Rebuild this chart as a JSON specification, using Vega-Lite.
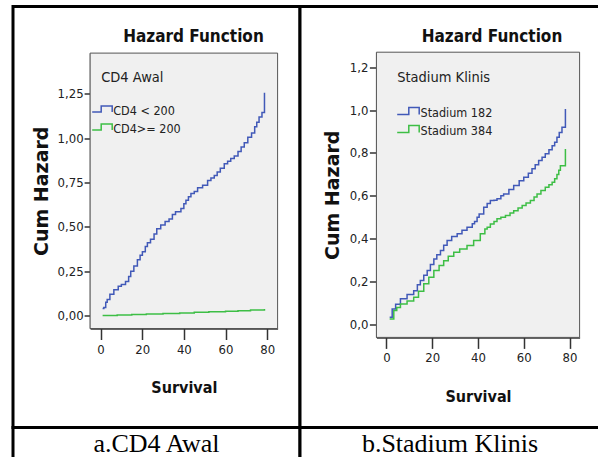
{
  "$schema": "https://vega.github.io/schema/vega-lite/v6.json",
  "padding": {"left": 11, "top": 4.5, "right": 0, "bottom": 0},
  "background": "white",
  "datasets": {
    "hz": [
      {"panel":"A","group":"CD4 < 200","t":1,"h":0.04},{"panel":"A","group":"CD4 < 200","t":1.6,"h":0.045},{"panel":"A","group":"CD4 < 200","t":2.5,"h":0.075},{"panel":"A","group":"CD4 < 200","t":3.2,"h":0.09},{"panel":"A","group":"CD4 < 200","t":4.5,"h":0.12},{"panel":"A","group":"CD4 < 200","t":6.4,"h":0.146},{"panel":"A","group":"CD4 < 200","t":8.5,"h":0.165},{"panel":"A","group":"CD4 < 200","t":10,"h":0.175},{"panel":"A","group":"CD4 < 200","t":12,"h":0.192},{"panel":"A","group":"CD4 < 200","t":13.5,"h":0.22},{"panel":"A","group":"CD4 < 200","t":14.5,"h":0.25},{"panel":"A","group":"CD4 < 200","t":16,"h":0.28},{"panel":"A","group":"CD4 < 200","t":17.7,"h":0.314},{"panel":"A","group":"CD4 < 200","t":19,"h":0.34},{"panel":"A","group":"CD4 < 200","t":20.1,"h":0.36},{"panel":"A","group":"CD4 < 200","t":21.5,"h":0.39},{"panel":"A","group":"CD4 < 200","t":22.5,"h":0.41},{"panel":"A","group":"CD4 < 200","t":24,"h":0.43},{"panel":"A","group":"CD4 < 200","t":25.7,"h":0.46},{"panel":"A","group":"CD4 < 200","t":27,"h":0.49},{"panel":"A","group":"CD4 < 200","t":28.9,"h":0.51},{"panel":"A","group":"CD4 < 200","t":31,"h":0.53},{"panel":"A","group":"CD4 < 200","t":32.9,"h":0.545},{"panel":"A","group":"CD4 < 200","t":34.5,"h":0.57},{"panel":"A","group":"CD4 < 200","t":36,"h":0.585},{"panel":"A","group":"CD4 < 200","t":38.6,"h":0.604},{"panel":"A","group":"CD4 < 200","t":40,"h":0.63},{"panel":"A","group":"CD4 < 200","t":41,"h":0.65},{"panel":"A","group":"CD4 < 200","t":42.2,"h":0.67},{"panel":"A","group":"CD4 < 200","t":43.4,"h":0.688},{"panel":"A","group":"CD4 < 200","t":45,"h":0.7},{"panel":"A","group":"CD4 < 200","t":46.6,"h":0.72},{"panel":"A","group":"CD4 < 200","t":49,"h":0.735},{"panel":"A","group":"CD4 < 200","t":51.4,"h":0.762},{"panel":"A","group":"CD4 < 200","t":53,"h":0.775},{"panel":"A","group":"CD4 < 200","t":54.6,"h":0.79},{"panel":"A","group":"CD4 < 200","t":56,"h":0.81},{"panel":"A","group":"CD4 < 200","t":57.5,"h":0.83},{"panel":"A","group":"CD4 < 200","t":59.4,"h":0.856},{"panel":"A","group":"CD4 < 200","t":61,"h":0.87},{"panel":"A","group":"CD4 < 200","t":62.5,"h":0.885},{"panel":"A","group":"CD4 < 200","t":64.2,"h":0.9},{"panel":"A","group":"CD4 < 200","t":66,"h":0.925},{"panel":"A","group":"CD4 < 200","t":67.5,"h":0.95},{"panel":"A","group":"CD4 < 200","t":69,"h":0.975},{"panel":"A","group":"CD4 < 200","t":70.7,"h":1.005},{"panel":"A","group":"CD4 < 200","t":72.5,"h":1.03},{"panel":"A","group":"CD4 < 200","t":74,"h":1.065},{"panel":"A","group":"CD4 < 200","t":75,"h":1.09},{"panel":"A","group":"CD4 < 200","t":76.1,"h":1.12},{"panel":"A","group":"CD4 < 200","t":77.5,"h":1.145},{"panel":"A","group":"CD4 < 200","t":78.7,"h":1.257},
      {"panel":"A","group":"CD4>= 200","t":1,"h":0.0},{"panel":"A","group":"CD4>= 200","t":8,"h":0.003},{"panel":"A","group":"CD4>= 200","t":15,"h":0.006},{"panel":"A","group":"CD4>= 200","t":22,"h":0.009},{"panel":"A","group":"CD4>= 200","t":30,"h":0.012},{"panel":"A","group":"CD4>= 200","t":38,"h":0.015},{"panel":"A","group":"CD4>= 200","t":45,"h":0.018},{"panel":"A","group":"CD4>= 200","t":52,"h":0.021},{"panel":"A","group":"CD4>= 200","t":60,"h":0.024},{"panel":"A","group":"CD4>= 200","t":66,"h":0.027},{"panel":"A","group":"CD4>= 200","t":72,"h":0.031},{"panel":"A","group":"CD4>= 200","t":78.7,"h":0.037},
      {"panel":"B","group":"Stadium 182","t":1.4,"h":0.034},{"panel":"B","group":"Stadium 182","t":2.5,"h":0.073},{"panel":"B","group":"Stadium 182","t":4,"h":0.095},{"panel":"B","group":"Stadium 182","t":6.1,"h":0.12},{"panel":"B","group":"Stadium 182","t":9,"h":0.14},{"panel":"B","group":"Stadium 182","t":11.9,"h":0.158},{"panel":"B","group":"Stadium 182","t":13.5,"h":0.185},{"panel":"B","group":"Stadium 182","t":14.8,"h":0.205},{"panel":"B","group":"Stadium 182","t":16.3,"h":0.23},{"panel":"B","group":"Stadium 182","t":17.8,"h":0.252},{"panel":"B","group":"Stadium 182","t":19.2,"h":0.28},{"panel":"B","group":"Stadium 182","t":20.7,"h":0.306},{"panel":"B","group":"Stadium 182","t":22,"h":0.325},{"panel":"B","group":"Stadium 182","t":23.6,"h":0.345},{"panel":"B","group":"Stadium 182","t":25,"h":0.37},{"panel":"B","group":"Stadium 182","t":26.5,"h":0.392},{"panel":"B","group":"Stadium 182","t":28.5,"h":0.41},{"panel":"B","group":"Stadium 182","t":30.9,"h":0.423},{"panel":"B","group":"Stadium 182","t":33,"h":0.44},{"panel":"B","group":"Stadium 182","t":35.2,"h":0.454},{"panel":"B","group":"Stadium 182","t":37.5,"h":0.47},{"panel":"B","group":"Stadium 182","t":38.5,"h":0.48},{"panel":"B","group":"Stadium 182","t":39.6,"h":0.5},{"panel":"B","group":"Stadium 182","t":40.5,"h":0.516},{"panel":"B","group":"Stadium 182","t":42.5,"h":0.547},{"panel":"B","group":"Stadium 182","t":44,"h":0.565},{"panel":"B","group":"Stadium 182","t":45.4,"h":0.578},{"panel":"B","group":"Stadium 182","t":47,"h":0.58},{"panel":"B","group":"Stadium 182","t":48.3,"h":0.586},{"panel":"B","group":"Stadium 182","t":50,"h":0.6},{"panel":"B","group":"Stadium 182","t":51.2,"h":0.609},{"panel":"B","group":"Stadium 182","t":53.5,"h":0.63},{"panel":"B","group":"Stadium 182","t":55.6,"h":0.648},{"panel":"B","group":"Stadium 182","t":58,"h":0.67},{"panel":"B","group":"Stadium 182","t":60,"h":0.687},{"panel":"B","group":"Stadium 182","t":62,"h":0.705},{"panel":"B","group":"Stadium 182","t":63.6,"h":0.726},{"panel":"B","group":"Stadium 182","t":65,"h":0.745},{"panel":"B","group":"Stadium 182","t":66.5,"h":0.765},{"panel":"B","group":"Stadium 182","t":68,"h":0.78},{"panel":"B","group":"Stadium 182","t":69.4,"h":0.796},{"panel":"B","group":"Stadium 182","t":71,"h":0.815},{"panel":"B","group":"Stadium 182","t":72.4,"h":0.834},{"panel":"B","group":"Stadium 182","t":73.5,"h":0.85},{"panel":"B","group":"Stadium 182","t":74.5,"h":0.873},{"panel":"B","group":"Stadium 182","t":75.5,"h":0.895},{"panel":"B","group":"Stadium 182","t":76.7,"h":0.92},{"panel":"B","group":"Stadium 182","t":78.2,"h":1.005},
      {"panel":"B","group":"Stadium 384","t":1.4,"h":0.026},{"panel":"B","group":"Stadium 384","t":3.2,"h":0.065},{"panel":"B","group":"Stadium 384","t":4.5,"h":0.08},{"panel":"B","group":"Stadium 384","t":6.1,"h":0.096},{"panel":"B","group":"Stadium 384","t":9,"h":0.11},{"panel":"B","group":"Stadium 384","t":11.9,"h":0.127},{"panel":"B","group":"Stadium 384","t":14,"h":0.155},{"panel":"B","group":"Stadium 384","t":16.3,"h":0.19},{"panel":"B","group":"Stadium 384","t":18.5,"h":0.22},{"panel":"B","group":"Stadium 384","t":20.7,"h":0.252},{"panel":"B","group":"Stadium 384","t":23,"h":0.275},{"panel":"B","group":"Stadium 384","t":25,"h":0.298},{"panel":"B","group":"Stadium 384","t":27,"h":0.318},{"panel":"B","group":"Stadium 384","t":29.4,"h":0.337},{"panel":"B","group":"Stadium 384","t":32,"h":0.352},{"panel":"B","group":"Stadium 384","t":35.2,"h":0.368},{"panel":"B","group":"Stadium 384","t":38.1,"h":0.392},{"panel":"B","group":"Stadium 384","t":41,"h":0.423},{"panel":"B","group":"Stadium 384","t":43,"h":0.445},{"panel":"B","group":"Stadium 384","t":44,"h":0.454},{"panel":"B","group":"Stadium 384","t":45.4,"h":0.469},{"panel":"B","group":"Stadium 384","t":47,"h":0.48},{"panel":"B","group":"Stadium 384","t":48.3,"h":0.493},{"panel":"B","group":"Stadium 384","t":50,"h":0.5},{"panel":"B","group":"Stadium 384","t":52,"h":0.508},{"panel":"B","group":"Stadium 384","t":54,"h":0.52},{"panel":"B","group":"Stadium 384","t":55.6,"h":0.531},{"panel":"B","group":"Stadium 384","t":57.5,"h":0.543},{"panel":"B","group":"Stadium 384","t":59.3,"h":0.555},{"panel":"B","group":"Stadium 384","t":61,"h":0.567},{"panel":"B","group":"Stadium 384","t":62.9,"h":0.578},{"panel":"B","group":"Stadium 384","t":64.5,"h":0.595},{"panel":"B","group":"Stadium 384","t":65.8,"h":0.609},{"panel":"B","group":"Stadium 384","t":67.5,"h":0.625},{"panel":"B","group":"Stadium 384","t":69.4,"h":0.64},{"panel":"B","group":"Stadium 384","t":71,"h":0.652},{"panel":"B","group":"Stadium 384","t":72.4,"h":0.663},{"panel":"B","group":"Stadium 384","t":73.5,"h":0.68},{"panel":"B","group":"Stadium 384","t":74.5,"h":0.7},{"panel":"B","group":"Stadium 384","t":75.3,"h":0.72},{"panel":"B","group":"Stadium 384","t":76,"h":0.741},{"panel":"B","group":"Stadium 384","t":78.2,"h":0.819}
    ],
    "caps": [
      {"panel": "A", "caption": "a.CD4 Awal"},
      {"panel": "B", "caption": "b.Stadium Klinis"}
    ]
  },
  "columns": 2,
  "spacing": 0,
  "bounds": "flush",
  "align": "each",
  "resolve": {"scale": {"x": "independent", "y": "independent", "color": "independent"}, "legend": {"color": "independent"}},
  "concat": [
    {
      "width": 287,
      "height": 421,
      "title": {"text": "Hazard Function", "offset": -39, "dx": 37, "anchor": "middle", "frame": "group", "font": "'DejaVu Sans Condensed', sans-serif", "fontSize": 17, "fontWeight": "bold", "color": "#111"},
      "layer": [
        {
          "data": {"values": [{}]},
          "mark": {"type": "rect", "fill": "#f0f0f0", "stroke": "#555", "strokeWidth": 1},
          "encoding": {
            "x": {"datum": -5, "type": "quantitative"},
            "x2": {"datum": 85},
            "y": {"datum": -0.073, "type": "quantitative"},
            "y2": {"datum": 1.48}
          }
        },
        {
          "data": {"name": "hz"},
          "transform": [{"filter": "datum.panel === 'A'"}],
          "mark": {"type": "line", "interpolate": "step-after", "strokeWidth": 1.5},
          "encoding": {
            "x": {"field": "t", "type": "quantitative",
              "scale": {"domain": [-5, 85], "range": [77.1, 264.6], "nice": false, "zero": false},
              "axis": {"title": "Survival", "values": [0, 20, 40, 60, 80], "offset": -99, "tickSize": 11, "labelPadding": 4, "titlePadding": 23}},
            "y": {"field": "h", "type": "quantitative",
              "scale": {"domain": [-0.073, 1.48], "range": [322, 46.6], "nice": false, "zero": false},
              "axis": {"title": "Cum Hazard", "values": [0, 0.25, 0.5, 0.75, 1, 1.25], "offset": -77.1, "tickSize": 6, "labelPadding": 1, "titlePadding": 6, "labelExpr": "replace(format(datum.value, '.2f'), '.', ',')"}},
            "color": {"field": "group", "type": "nominal",
              "scale": {"domain": ["CD4 < 200", "CD4>= 200"], "range": ["#4159B8", "#3DBE45"]},
              "legend": {"title": "CD4 Awal", "orient": "none", "legendX": 88.2, "legendY": 64, "symbolType": "M-2,0.1H-1.1V-0.5H0V0.1", "labelOffset": -10, "titlePadding": 15, "rowPadding": -1}}
          }
        }
      ]
    },
    {
      "width": 300,
      "height": 421,
      "title": {"text": "Hazard Function", "offset": -39, "dx": 42, "anchor": "middle", "frame": "group", "font": "'DejaVu Sans Condensed', sans-serif", "fontSize": 17, "fontWeight": "bold", "color": "#111"},
      "layer": [
        {
          "data": {"values": [{}]},
          "mark": {"type": "rect", "fill": "#f0f0f0", "stroke": "#555", "strokeWidth": 1},
          "encoding": {
            "x": {"datum": -4.4, "type": "quantitative"},
            "x2": {"datum": 84.4},
            "y": {"datum": -0.06, "type": "quantitative"},
            "y2": {"datum": 1.27}
          }
        },
        {
          "data": {"name": "hz"},
          "transform": [{"filter": "datum.panel === 'B'"}],
          "mark": {"type": "line", "interpolate": "step-after", "strokeWidth": 1.5},
          "encoding": {
            "x": {"field": "t", "type": "quantitative",
              "scale": {"domain": [-4.4, 84.4], "range": [76.4, 279.6], "nice": false, "zero": false},
              "axis": {"title": "Survival", "values": [0, 20, 40, 60, 80], "offset": -90.1, "tickSize": 11, "labelPadding": 3, "titlePadding": 24}},
            "y": {"field": "h", "type": "quantitative",
              "scale": {"domain": [-0.06, 1.27], "range": [330.9, 45.7], "nice": false, "zero": false},
              "axis": {"title": "Cum Hazard", "values": [0, 0.2, 0.4, 0.6, 0.8, 1, 1.2], "offset": -76.4, "tickSize": 7, "labelPadding": 1.5, "titlePadding": 7, "labelExpr": "replace(format(datum.value, '.1f'), '.', ',')"}},
            "color": {"field": "group", "type": "nominal",
              "scale": {"domain": ["Stadium 182", "Stadium 384"], "range": ["#4159B8", "#3DBE45"]},
              "legend": {"title": "Stadium Klinis", "orient": "none", "legendX": 97.2, "legendY": 64, "symbolType": "M-1.1,0.2H0.06V-0.5H1.1V0.2", "labelOffset": 1.3, "titlePadding": 16.5, "rowPadding": -1}}
          }
        }
      ]
    },
    {
      "width": 287,
      "height": 48,
      "view": {"stroke": "black", "strokeWidth": 3, "fill": "white"},
      "data": {"name": "caps"},
      "transform": [{"filter": "datum.panel === 'A'"}],
      "mark": {"type": "text", "font": "'Liberation Serif', 'DejaVu Serif', serif", "fontSize": 26, "baseline": "alphabetic", "align": "center", "color": "black"},
      "encoding": {"text": {"field": "caption", "type": "nominal"}}
    },
    {
      "width": 300,
      "height": 48,
      "view": {"stroke": "black", "strokeWidth": 3, "fill": "white"},
      "data": {"name": "caps"},
      "transform": [{"filter": "datum.panel === 'B'"}],
      "mark": {"type": "text", "font": "'Liberation Serif', 'DejaVu Serif', serif", "fontSize": 26, "baseline": "alphabetic", "align": "center", "color": "black"},
      "encoding": {"text": {"field": "caption", "type": "nominal"}}
    }
  ],
  "config": {
    "view": {"stroke": "black", "strokeWidth": 3, "fill": "white"},
    "axis": {"labelFont": "'DejaVu Sans Condensed', sans-serif", "labelFontSize": 13, "labelColor": "#222", "tickColor": "#333", "tickWidth": 1.5, "domainColor": "#333", "domainWidth": 1.5, "grid": false, "zindex": 1, "titleColor": "#111"},
    "axisX": {"titleFont": "'DejaVu Sans Condensed', sans-serif", "titleFontSize": 16, "titleFontWeight": "bold"},
    "axisY": {"titleFont": "'DejaVu Sans', sans-serif", "titleFontSize": 19, "titleFontWeight": "bold"},
    "legend": {"padding": 0, "titleFont": "'DejaVu Sans Condensed', sans-serif", "titleFontSize": 14.5, "titleFontWeight": "normal", "titleColor": "#222", "labelFont": "'DejaVu Sans Condensed', sans-serif", "labelFontSize": 12.5, "labelColor": "#222", "symbolSize": 400, "symbolStrokeWidth": 1.5, "symbolFillColor": "transparent"}
  }
}
